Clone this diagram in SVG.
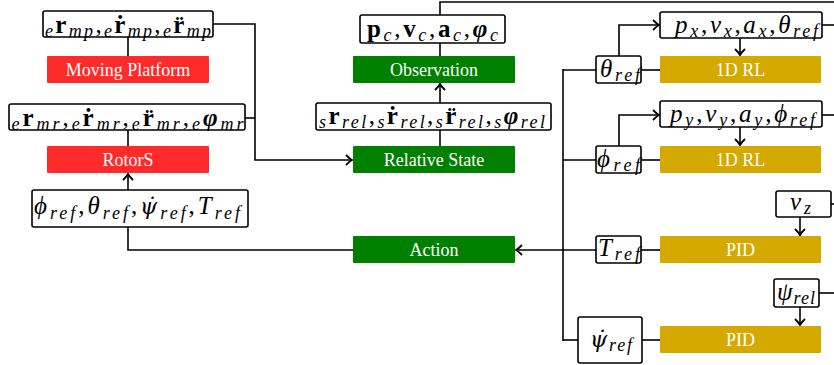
<svg xmlns="http://www.w3.org/2000/svg" width="834" height="365" viewBox="0 0 834 365">
<style>
.bx{fill:#fff;stroke:#000;stroke-width:1.6}
.red{fill:#ff2a2a}
.grn{fill:#008000}
.gld{fill:#d4aa00}
.l{font-family:"Liberation Serif","Times New Roman",serif;font-size:18px;fill:#fff;text-anchor:middle}
.m{font-family:"Liberation Serif","Times New Roman",serif;font-size:25px;font-style:italic;fill:#000;text-anchor:middle}
.b{font-weight:bold;font-style:normal}
.bi{font-weight:bold;font-style:italic}
.s{font-size:18px;font-style:italic;font-weight:normal}
.u{font-style:normal}
.d{font-family:"DejaVu Serif",serif;font-size:22px}
.c line,.c path,.c polyline{stroke:#000;stroke-width:1.6;fill:none}
</style>
<defs>
<marker id="ar" markerWidth="12" markerHeight="12" refX="0" refY="0" viewBox="-8 -6 10 12" markerUnits="userSpaceOnUse" orient="auto">
<path d="M-5.5,-4.5 Q-2,-1 0,0 Q-2,1 -5.5,4.5" fill="none" stroke="#000" stroke-width="1.8" stroke-linecap="round"/>
</marker>
</defs>

<g class="c" id="connectors">
<polyline points="213,24 255,24 255,160 352,160" marker-end="url(#ar)"/>
<line x1="245" y1="118" x2="255" y2="118"/>
<line x1="128" y1="37" x2="128" y2="56"/>
<line x1="128" y1="130" x2="128" y2="146"/>
<line x1="128" y1="190" x2="128" y2="174" marker-end="url(#ar)"/>
<polyline points="128,227 128,250 353,250"/>
<line x1="596" y1="250" x2="516" y2="250" marker-end="url(#ar)"/>
<line x1="641" y1="250" x2="660" y2="250"/>
<line x1="563" y1="69" x2="563" y2="341"/>
<line x1="563" y1="70" x2="596" y2="70"/>
<line x1="641" y1="70" x2="660" y2="70"/>
<line x1="563" y1="160" x2="596" y2="160"/>
<line x1="641" y1="160" x2="660" y2="160"/>
<line x1="563" y1="340" x2="578" y2="340"/>
<line x1="642" y1="340" x2="660" y2="340"/>
<polyline points="619,56 619,25 659,25" marker-end="url(#ar)"/>
<polyline points="619,146 619,115 659,115" marker-end="url(#ar)"/>
<line x1="822" y1="25" x2="834" y2="25"/>
<line x1="822" y1="115" x2="834" y2="115"/>
<line x1="740" y1="38" x2="740" y2="55" marker-end="url(#ar)"/>
<line x1="740" y1="127" x2="740" y2="145" marker-end="url(#ar)"/>
<line x1="800" y1="217" x2="800" y2="235" marker-end="url(#ar)"/>
<line x1="831" y1="204" x2="834" y2="204"/>
<line x1="800" y1="307" x2="800" y2="325" marker-end="url(#ar)"/>
<line x1="819" y1="293" x2="834" y2="293"/>
<polyline points="440,15 440,2 834,2"/>
<line x1="440" y1="43" x2="440" y2="56"/>
<line x1="440" y1="103" x2="440" y2="84" marker-end="url(#ar)"/>
<line x1="440" y1="130" x2="440" y2="146"/>
</g>

<g id="mp-state">
<rect class="bx" x="43" y="11" width="170" height="26" rx="2"/>
<text class="m" x="128" y="33" textLength="166" lengthAdjust="spacing"><tspan class="s" dy="4">e</tspan><tspan class="b" dy="-4">r</tspan><tspan class="s" dy="4">mp</tspan><tspan class="u" dy="-4">,</tspan><tspan class="s" dy="4">e</tspan><tspan class="b" dy="-4">ṙ</tspan><tspan class="s" dy="4">mp</tspan><tspan class="u" dy="-4">,</tspan><tspan class="s" dy="4">e</tspan><tspan class="b" dy="-4">r̈</tspan><tspan class="s" dy="4">mp</tspan></text>
</g>
<g id="moving-platform">
<rect class="red" x="47" y="56" width="162" height="27" rx="1"/>
<text class="l" x="128" y="75.5">Moving Platform</text>
</g>
<g id="mr-state">
<rect class="bx" x="9" y="104" width="236" height="26" rx="2"/>
<text class="m" x="127.5" y="126" textLength="232" lengthAdjust="spacing"><tspan class="s" dy="4">e</tspan><tspan class="b" dy="-4">r</tspan><tspan class="s" dy="4">mr</tspan><tspan class="u" dy="-4">,</tspan><tspan class="s" dy="4">e</tspan><tspan class="b" dy="-4">ṙ</tspan><tspan class="s" dy="4">mr</tspan><tspan class="u" dy="-4">,</tspan><tspan class="s" dy="4">e</tspan><tspan class="b" dy="-4">r̈</tspan><tspan class="s" dy="4">mr</tspan><tspan class="u" dy="-4">,</tspan><tspan class="s" dy="4">e</tspan><tspan class="bi" dy="-4">φ</tspan><tspan class="s" dy="4">mr</tspan></text>
</g>
<g id="rotors">
<rect class="red" x="47" y="146" width="162" height="27" rx="1"/>
<text class="l" x="128" y="165.5">RotorS</text>
</g>
<g id="ref-cmds">
<rect class="bx" x="32" y="190" width="216" height="37" rx="2"/>
<text class="m" x="137" y="214" textLength="206" lengthAdjust="spacing">ϕ<tspan class="s" dy="5">ref</tspan><tspan class="u" dy="-5">,</tspan>θ<tspan class="s" dy="5">ref</tspan><tspan class="u" dy="-5">,</tspan><tspan class="d">ψ̇</tspan><tspan class="s" dy="5">ref</tspan><tspan class="u" dy="-5">,</tspan>T<tspan class="s" dy="5">ref</tspan></text>
</g>

<g id="obs-state">
<rect class="bx" x="360" y="15" width="145" height="28" rx="2"/>
<text class="m" x="432.5" y="36.5" textLength="131" lengthAdjust="spacing"><tspan class="b">p</tspan><tspan class="s" dy="4">c</tspan><tspan class="u" dy="-4">,</tspan><tspan class="b">v</tspan><tspan class="s" dy="4">c</tspan><tspan class="u" dy="-4">,</tspan><tspan class="b">a</tspan><tspan class="s" dy="4">c</tspan><tspan class="u" dy="-4">,</tspan><tspan class="bi">φ</tspan><tspan class="s" dy="4">c</tspan></text>
</g>
<g id="observation">
<rect class="grn" x="353" y="56" width="162" height="27" rx="1"/>
<text class="l" x="434" y="75.5">Observation</text>
</g>
<g id="rel-state">
<rect class="bx" x="316" y="103" width="235" height="27" rx="2"/>
<text class="m" x="432" y="124" textLength="226" lengthAdjust="spacing"><tspan class="s" dy="4">s</tspan><tspan class="b" dy="-4">r</tspan><tspan class="s" dy="4">rel</tspan><tspan class="u" dy="-4">,</tspan><tspan class="s" dy="4">s</tspan><tspan class="b" dy="-4">ṙ</tspan><tspan class="s" dy="4">rel</tspan><tspan class="u" dy="-4">,</tspan><tspan class="s" dy="4">s</tspan><tspan class="b" dy="-4">r̈</tspan><tspan class="s" dy="4">rel</tspan><tspan class="u" dy="-4">,</tspan><tspan class="s" dy="4">s</tspan><tspan class="bi" dy="-4">φ</tspan><tspan class="s" dy="4">rel</tspan></text>
</g>
<g id="relative-state">
<rect class="grn" x="353" y="146" width="162" height="27" rx="1"/>
<text class="l" x="434" y="165.5">Relative State</text>
</g>
<g id="action">
<rect class="grn" x="353" y="236" width="162" height="27" rx="1"/>
<text class="l" x="434" y="255.5">Action</text>
</g>

<g id="theta-ref">
<rect class="bx" x="596" y="56" width="45" height="27" rx="2"/>
<text class="m" x="620" y="76.5" textLength="40" lengthAdjust="spacing">θ<tspan class="s" dy="4">ref</tspan></text>
</g>
<g id="px-state">
<rect class="bx" x="660" y="12" width="162" height="26" rx="2"/>
<text class="m" x="746.5" y="32.5" textLength="143" lengthAdjust="spacing">p<tspan class="s" dy="4">x</tspan><tspan class="u" dy="-4">,</tspan>v<tspan class="s" dy="4">x</tspan><tspan class="u" dy="-4">,</tspan>a<tspan class="s" dy="4">x</tspan><tspan class="u" dy="-4">,</tspan>θ<tspan class="s" dy="4">ref</tspan></text>
</g>
<g id="rl-x">
<rect class="gld" x="660" y="56" width="161" height="27" rx="1"/>
<text class="l" x="740.5" y="75.5">1D RL</text>
</g>
<g id="phi-ref">
<rect class="bx" x="596" y="146" width="45" height="27" rx="2"/>
<text class="m" x="618.5" y="166.5" textLength="43" lengthAdjust="spacing">ϕ<tspan class="s" dy="4">ref</tspan></text>
</g>
<g id="py-state">
<rect class="bx" x="660" y="101" width="162" height="26" rx="2"/>
<text class="m" x="742.5" y="121.5" textLength="145" lengthAdjust="spacing">p<tspan class="s" dy="4">y</tspan><tspan class="u" dy="-4">,</tspan>v<tspan class="s" dy="4">y</tspan><tspan class="u" dy="-4">,</tspan>a<tspan class="s" dy="4">y</tspan><tspan class="u" dy="-4">,</tspan>ϕ<tspan class="s" dy="4">ref</tspan></text>
</g>
<g id="rl-y">
<rect class="gld" x="660" y="146" width="161" height="27" rx="1"/>
<text class="l" x="740.5" y="165.5">1D RL</text>
</g>
<g id="vz">
<rect class="bx" x="776" y="191" width="55" height="26" rx="2"/>
<text class="m" x="800.5" y="210" textLength="21" lengthAdjust="spacing">v<tspan class="s" dy="4">z</tspan></text>
</g>
<g id="t-ref">
<rect class="bx" x="596" y="236" width="45" height="27" rx="2"/>
<text class="m" x="619" y="255.5" textLength="42" lengthAdjust="spacing">T<tspan class="s" dy="4">ref</tspan></text>
</g>
<g id="pid-z">
<rect class="gld" x="660" y="236" width="161" height="27" rx="1"/>
<text class="l" x="740.5" y="255.5">PID</text>
</g>
<g id="psi-rel">
<rect class="bx" x="774" y="279" width="45" height="28" rx="2"/>
<text class="m" x="796" y="299.5" textLength="38" lengthAdjust="spacing">ψ<tspan class="s" dy="4">rel</tspan></text>
</g>
<g id="psidot-ref">
<rect class="bx" x="578" y="317" width="64" height="46" rx="2"/>
<text class="m" x="611" y="347" textLength="42" lengthAdjust="spacing"><tspan class="d">ψ̇</tspan><tspan class="s" dy="4">ref</tspan></text>
</g>
<g id="pid-yaw">
<rect class="gld" x="660" y="326" width="161" height="27" rx="1"/>
<text class="l" x="740.5" y="345.5">PID</text>
</g>
</svg>
